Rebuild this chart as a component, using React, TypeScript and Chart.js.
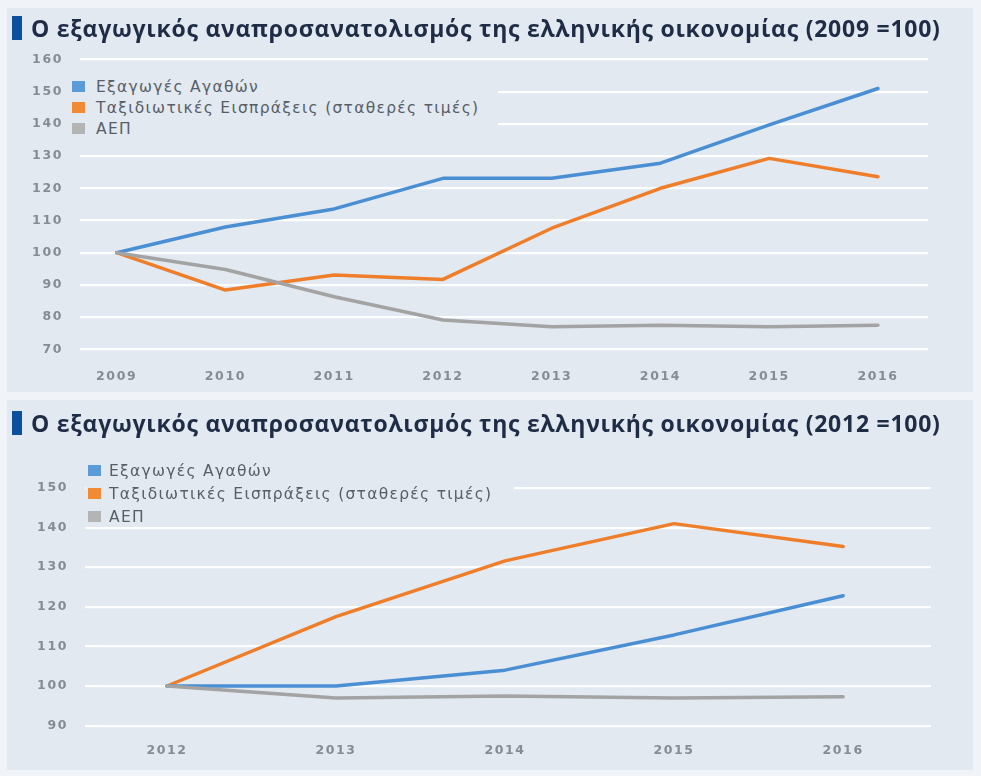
import React, { useEffect, useRef } from "react";
import { Chart, registerables } from "chart.js";

Chart.register(...registerables);

// ---------- data ----------
const seriesNames = ["Εξαγωγές Αγαθών", "Ταξιδιωτικές Εισπράξεις (σταθερές τιμές)", "ΑΕΠ"];
const seriesColors = ["#4a8fd3", "#ef7e2b", "#a3a3a3"];
const legendSquareColors = ["#5b9bd9", "#f28a35", "#b4b4b4"];

const title1 = "Ο εξαγωγικός αναπροσανατολισμός της ελληνικής οικονομίας (2009 =100)";
const years1 = [2009, 2010, 2011, 2012, 2013, 2014, 2015, 2016];
const exports1 = [100, 108, 113.6, 123.1, 123.1, 127.8, 139.7, 151];
const travel1 = [100, 88.4, 93.1, 91.7, 107.6, 120, 129.3, 123.6];
const gdp1 = [100, 94.8, 86.3, 79.1, 77, 77.5, 77, 77.5];
const yTicks1 = [70, 80, 90, 100, 110, 120, 130, 140, 150, 160];

const title2 = "Ο εξαγωγικός αναπροσανατολισμός της ελληνικής οικονομίας (2012 =100)";
const years2 = [2012, 2013, 2014, 2015, 2016];
const exports2 = [100, 100, 104, 112.9, 122.8];
const travel2 = [100, 117.5, 131.6, 141, 135.2];
const gdp2 = [100, 97, 97.5, 97, 97.3];
const yTicks2 = [90, 100, 110, 120, 130, 140, 150];

const PANEL = "#e2e9f1";
const OUTER = "#f0f4f8";
const TICK_COLOR = "#878c93";

const spacingPlugin = {
  id: "spacing",
  beforeLayout(chart: any) {
    chart.ctx.letterSpacing = "1.6px";
  },
  beforeDraw(chart: any) {
    chart.ctx.letterSpacing = "1.6px";
  },
};

type Cfg = {
  years: number[];
  series: number[][];
  yTicks: number[];
  xMin: number;
  xMax: number;
  yAxisWidth: number;
  padding: { top: number; bottom: number; left: number; right: number };
  xTickPad: number;
  width: number;
  height: number;
};

function LineChart({ cfg, style }: { cfg: Cfg; style: React.CSSProperties }) {
  const ref = useRef<HTMLCanvasElement | null>(null);
  useEffect(() => {
    if (!ref.current) return;
    const datasets = cfg.series.map((vals, i) => ({
      label: seriesNames[i],
      data: cfg.years.map((y, j) => ({ x: y, y: vals[j] })),
      borderColor: seriesColors[i],
      backgroundColor: seriesColors[i],
      borderWidth: 3.5,
      pointRadius: 0,
      tension: 0,
      borderCapStyle: "round" as const,
      borderJoinStyle: "round" as const,
    }));
    // draw order: grey at bottom, then blue, then orange on top
    const ordered = [datasets[2], datasets[0], datasets[1]];
    const chart = new Chart(ref.current, {
      type: "line",
      data: { datasets: ordered },
      plugins: [spacingPlugin],
      options: {
        animation: false,
        responsive: false,
        layout: { padding: cfg.padding },
        plugins: { legend: { display: false }, tooltip: { enabled: false }, title: { display: false } },
        scales: {
          x: {
            type: "linear",
            min: cfg.xMin,
            max: cfg.xMax,
            grid: { display: false, drawTicks: false },
            border: { display: false },
            afterBuildTicks: (s: any) => {
              s.ticks = cfg.years.map((v) => ({ value: v }));
            },
            afterFit: (s: any) => {
              s.height = 40;
            },
            ticks: {
              padding: cfg.xTickPad,
              color: TICK_COLOR,
              font: { family: "DejaVu Sans", size: 12.5, weight: "bold" },
              callback: (v: any) => String(v),
              autoSkip: false,
              maxRotation: 0,
            },
          },
          y: {
            type: "linear",
            min: cfg.yTicks[0],
            max: cfg.yTicks[cfg.yTicks.length - 1],
            afterBuildTicks: (s: any) => {
              s.ticks = cfg.yTicks.map((v) => ({ value: v }));
            },
            afterFit: (s: any) => {
              s.width = cfg.yAxisWidth;
            },
            grid: { color: "rgba(255,255,255,0.92)", lineWidth: 2.2, drawTicks: false },
            border: { display: false },
            ticks: {
              padding: 17,
              color: TICK_COLOR,
              font: { family: "DejaVu Sans", size: 12.5, weight: "bold" },
              callback: (v: any) => String(v),
            },
          },
        },
      },
    });
    return () => chart.destroy();
  }, []);
  return <canvas ref={ref} width={cfg.width} height={cfg.height} style={{ position: "absolute", ...style }} />;
}

function Title({ text, top }: { text: string; top: number }) {
  return (
    <div style={{ position: "absolute", left: 12, top, height: 28, display: "flex", alignItems: "center" }}>
      <div style={{ width: 10, height: 24, background: "#0c4f9e", marginRight: 9 }} />
      <div
        style={{
          fontFamily: "'Open Sans', sans-serif",
          fontWeight: 700,
          fontSize: 23,
          letterSpacing: 0.75,
          color: "#1f2c46",
          whiteSpace: "nowrap",
          lineHeight: "28px",
        }}
      >
        {text}
      </div>
    </div>
  );
}

function Legend({ left, top, width, height, rowH, textGap }: { left: number; top: number; width: number; height: number; rowH: number; textGap: number }) {
  return (
    <div style={{ position: "absolute", left, top, width, height, background: PANEL, paddingTop: 4, boxSizing: "border-box" }}>
      {seriesNames.map((n, i) => (
        <div key={n} style={{ display: "flex", alignItems: "center", height: rowH, paddingLeft: 2 }}>
          <div style={{ width: 13, height: 11, background: legendSquareColors[i], marginRight: textGap }} />
          <span
            style={{
              fontFamily: "'DejaVu Sans', sans-serif",
              fontSize: 15.5,
              letterSpacing: 1.3,
              color: "#585e66",
              whiteSpace: "nowrap",
            }}
          >
            {n}
          </span>
        </div>
      ))}
    </div>
  );
}

const cfg1: Cfg = {
  years: years1,
  series: [exports1, travel1, gdp1],
  yTicks: yTicks1,
  xMin: 2008.663,
  xMax: 2016.46,
  yAxisWidth: 80,
  padding: { top: 59.5, bottom: 2.7, left: 0, right: 53 },
  xTickPad: 20,
  width: 981,
  height: 392,
};

const cfg2: Cfg = {
  years: years2,
  series: [exports2, travel2, gdp2],
  yTicks: yTicks2,
  xMin: 2011.515,
  xMax: 2016.52,
  yAxisWidth: 85,
  padding: { top: 88, bottom: 4.4, left: 0, right: 50 },
  xTickPad: 18,
  width: 981,
  height: 370,
};

export default function App() {
  return (
    <div style={{ position: "absolute", left: 0, top: 0, width: 981, height: 776, background: OUTER, overflow: "hidden" }}>
      <div style={{ position: "absolute", left: 7, top: 8, width: 966, height: 384, background: PANEL }} />
      <div style={{ position: "absolute", left: 7, top: 400, width: 966, height: 370, background: PANEL }} />
      <LineChart cfg={cfg1} style={{ left: 0, top: 0 }} />
      <LineChart cfg={cfg2} style={{ left: 0, top: 400 }} />
      <Legend left={70} top={72} width={428} height={72} rowH={21} textGap={11} />
      <Legend left={86} top={455} width={428} height={68} rowH={23} textGap={8} />
      <Title text={title1} top={14} />
      <Title text={title2} top={409} />
    </div>
  );
}
